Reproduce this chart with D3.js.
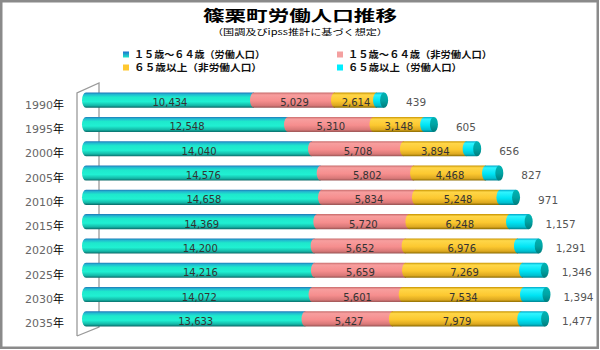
<!DOCTYPE html>
<html><head><meta charset="utf-8">
<script src="https://cdn.jsdelivr.net/npm/d3@7/dist/d3.min.js"></script>
<style>body{margin:0;background:#fff}svg{display:block}</style>
</head><body>
<script>
const years = ["1990","1995","2000","2005","2010","2015","2020","2025","2030","2035"];
const seriesNames = ["１５歳～６４歳（労働人口）","１５歳～６４歳（非労働人口）","６５歳以上（非労働人口）","６５歳以上（労働人口）"];
const working1564 = [10434,12548,14040,14576,14658,14369,14200,14216,14072,13633];
const nonWorking1564 = [5029,5310,5708,5802,5834,5720,5652,5659,5601,5427];
const nonWorking65 = [2614,3148,3894,4468,5248,6248,6976,7269,7534,7979];
const working65 = [439,605,656,827,971,1157,1291,1346,1394,1477];

const W=600,H=350;
const svg=d3.select("body").append("svg").attr("width",W).attr("height",H);
const defs=svg.append("defs");
function grad(id,stops){
  const g=defs.append("linearGradient").attr("id",id).attr("x1",0).attr("y1",0).attr("x2",0).attr("y2",1);
  stops.forEach(s=>g.append("stop").attr("offset",s[0]).attr("stop-color",s[1]));
}
grad("g0",[[0,"#1f78b8"],[0.12,"#22b8d0"],[0.3,"#1ee8cc"],[0.6,"#20f0d2"],[0.85,"#14b8a8"],[1,"#0a6a68"]]);
grad("g1",[[0,"#c86c6c"],[0.15,"#f79e9e"],[0.55,"#f68e8e"],[0.85,"#d87878"],[1,"#985454"]]);
grad("g2",[[0,"#c89400"],[0.15,"#ffd648"],[0.55,"#fcc830"],[0.85,"#dca820"],[1,"#8a6a00"]]);
grad("g3",[[0,"#00a8c8"],[0.15,"#30f4ff"],[0.55,"#00e4f4"],[0.85,"#00c0d0"],[1,"#00808c"]]);
grad("gcap",[[0,"#00b4b4"],[0.5,"#00a4a4"],[1,"#007c7c"]]);
grad("gl0",[[0,"#1f6fd0"],[1,"#20e8c8"]]);

// frame
svg.append("rect").attr("x",1.25).attr("y",1.25).attr("width",596.5).attr("height",346.5)
  .attr("fill","#fff").attr("stroke","#8a8a8a").attr("stroke-width",2.5);

// title
svg.append("text").attr("x",300).attr("y",21).attr("text-anchor","middle")
  .attr("font-family","Noto Sans CJK JP").attr("font-weight","bold").attr("font-size",15)
  .attr("textLength",194).attr("lengthAdjust","spacingAndGlyphs").attr("fill","#000")
  .text("篠栗町労働人口推移");
svg.append("text").attr("x",300).attr("y",35).attr("text-anchor","middle")
  .attr("font-family","Noto Sans CJK JP").attr("font-size",8.5)
  .attr("textLength",176).attr("lengthAdjust","spacingAndGlyphs").attr("fill","#000")
  .text("（国調及びipss推計に基づく想定）");

// legend
const legFill=["url(#gl0)","#f4a0a0","#ffc830","#00eeff"];
const legPos=[{x:123,y:55,w:131},{x:337,y:55,w:144},{x:123,y:68,w:128},{x:337,y:68,w:114}];
[0,1,2,3].forEach((s,i)=>{
  const p=legPos[i];
  svg.append("rect").attr("x",p.x).attr("y",p.y-3.5).attr("width",6).attr("height",6).attr("fill",legFill[s]);
  svg.append("text").attr("x",p.x+11).attr("y",p.y+3).attr("font-family","Noto Sans CJK JP")
    .attr("font-size",9.5).attr("font-weight","bold").attr("fill","#111")
    .attr("textLength",p.w).attr("lengthAdjust","spacingAndGlyphs").text(seriesNames[s]);
});

// scales
const x=d3.scaleLinear().domain([0,30000]).range([86,569]);
const y=d3.scaleBand().domain(years).range([88,331]).paddingInner(0.38).paddingOuter(0.19);
const bh=y.bandwidth();

// 3D frame lines
const fr=svg.append("g").attr("stroke","#9a9a9a").attr("stroke-width",1.3).attr("fill","none");
fr.append("path").attr("d","M77,336 L77,93 L99,83 L99,327 L77,336");

const series=[working1564,nonWorking1564,nonWorking65,working65];
const stacked=years.map((yr,i)=>{
  let acc=0;
  return series.map((arr,s)=>{const a=acc;acc+=arr[i];return {yr,s,v:arr[i],x0:a,x1:acc};});
});
const rx=4;
const bars=svg.append("g");
stacked.forEach(row=>{
  const g=bars.append("g");
  const top=y(row[0].yr), bot=top+bh, cy=top+bh/2;
  row.forEach(d=>{
    const a=x(d.x0), b=x(d.x1);
    g.append("path").attr("d",`M${a},${top} L${b},${top} L${b},${bot} L${a},${bot} A${rx},${bh/2} 0 0 1 ${a},${top} Z`)
      .attr("fill",`url(#g${d.s})`);
  });
  const last=row[row.length-1];
  const e=x(last.x1);
  g.append("ellipse").attr("cx",e).attr("cy",cy).attr("rx",rx).attr("ry",bh/2).attr("fill","url(#gcap)");
  row.slice(0,3).forEach(d=>{
    g.append("text").attr("x",(x(d.x0)+x(d.x1))/2).attr("y",cy+6).attr("text-anchor","middle")
      .attr("font-family","DejaVu Sans").attr("font-size",10).attr("fill","#333")
      .text(d3.format(",")(d.v));
  });
  g.append("text").attr("x",e+rx+28).attr("y",cy+6.2).attr("text-anchor","middle")
    .attr("font-family","DejaVu Sans").attr("font-size",10.5).attr("fill","#555")
    .text(d3.format(",")(last.v));
  const t=g.append("text").attr("x",64).attr("y",cy+8.5).attr("text-anchor","end")
    .attr("font-family","DejaVu Sans, Noto Sans CJK JP").attr("font-size",11);
  t.append("tspan").attr("fill","#666").text(row[0].yr);
  t.append("tspan").attr("fill","#000").attr("font-family","Noto Sans CJK JP").text("年");
});
</script>
</body></html>
